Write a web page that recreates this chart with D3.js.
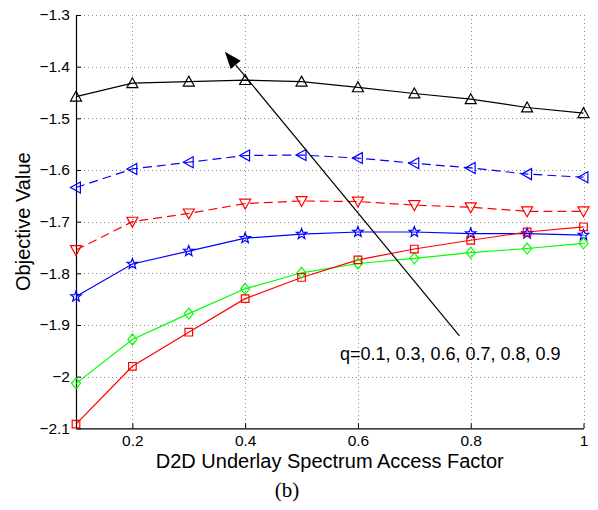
<!DOCTYPE html>
<html>
<head>
<meta charset="utf-8">
<script src="https://cdn.jsdelivr.net/npm/d3@7"></script>
<style>
  html, body { margin: 0; padding: 0; background: #fff; }
  svg { display: block; }
</style>
</head>
<body>
<svg id="chart" width="598" height="510"></svg>
<script>
// ---- data ----
const xValues = [0.1, 0.2, 0.3, 0.4, 0.5, 0.6, 0.7, 0.8, 0.9, 1.0];
const seriesQ01 = [-1.458, -1.432, -1.429, -1.426, -1.429, -1.440, -1.452, -1.463, -1.479, -1.490]; // black up-triangle
const seriesQ03 = [-1.634, -1.598, -1.585, -1.572, -1.571, -1.577, -1.587, -1.596, -1.608, -1.614]; // blue dashed left-triangle
const seriesQ06 = [-1.755, -1.700, -1.684, -1.665, -1.660, -1.661, -1.668, -1.672, -1.680, -1.680]; // red dashed down-triangle
const seriesQ07 = [-1.845, -1.782, -1.757, -1.732, -1.724, -1.720, -1.720, -1.723, -1.723, -1.726]; // blue star
const seriesQ08 = [-2.013, -1.928, -1.878, -1.830, -1.799, -1.781, -1.771, -1.760, -1.752, -1.742]; // green diamond
const seriesQ09 = [-2.092, -1.980, -1.914, -1.849, -1.808, -1.774, -1.753, -1.736, -1.720, -1.710]; // red square
const xTicks = [0.2, 0.4, 0.6, 0.8, 1.0];
const xTickLabels = ["0.2", "0.4", "0.6", "0.8", "1"];
const yTicks = [-2.1, -2.0, -1.9, -1.8, -1.7, -1.6, -1.5, -1.4, -1.3];
const yTickLabels = ["\u22122.1", "\u22122", "\u22121.9", "\u22121.8", "\u22121.7", "\u22121.6", "\u22121.5", "\u22121.4", "\u22121.3"];
const xLabel = "D2D Underlay Spectrum Access Factor";
const yLabel = "Objective Value";
const annotationText = "q=0.1, 0.3, 0.6, 0.7, 0.8, 0.9";
const arrowFrom = [0.780, -1.921];
const arrowTo = [0.364, -1.371];
const annotationAt = [0.568, -1.968];
const captionText = "(b)";

const series = [
  { values: seriesQ01, color: "#000000", dash: null, marker: "up" },
  { values: seriesQ03, color: "#0000ff", dash: "9,5", marker: "left" },
  { values: seriesQ06, color: "#ff0000", dash: "9,5", marker: "down" },
  { values: seriesQ07, color: "#0000ff", dash: null, marker: "star" },
  { values: seriesQ08, color: "#00ff00", dash: null, marker: "diamond" },
  { values: seriesQ09, color: "#ff0000", dash: null, marker: "square" }
];

// ---- layout ----
const svg = d3.select("#chart");
const pLeft = 76, pRight = 583.5, pTop = 15, pBottom = 428.3;
const x = d3.scaleLinear().domain([0.1, 1.0]).range([pLeft, pRight]);
const y = d3.scaleLinear().domain([-2.1, -1.3]).range([pBottom, pTop]);
const font = "Arial, 'Liberation Sans', Helvetica, sans-serif";

svg.append("rect").attr("width", 598).attr("height", 510).attr("fill", "#fff");

// grid
const grid = svg.append("g").attr("stroke", "#8c8c8c").attr("stroke-width", 1)
  .attr("stroke-dasharray", "1,3").attr("shape-rendering", "crispEdges");
grid.selectAll("line.gx").data(xTicks).join("line").attr("class", "gx")
  .attr("x1", d => Math.round(x(d)) + 0.5).attr("x2", d => Math.round(x(d)) + 0.5)
  .attr("y1", pTop).attr("y2", pBottom);
grid.selectAll("line.gy").data(yTicks.filter(d => d > -2.1)).join("line").attr("class", "gy")
  .attr("y1", d => Math.round(y(d)) + 0.5).attr("y2", d => Math.round(y(d)) + 0.5)
  .attr("x1", pLeft).attr("x2", pRight);

// axes (inward ticks, MATLAB style)
const xAxis = d3.axisBottom(x).tickValues(xTicks).tickSizeInner(-5).tickSizeOuter(0)
  .tickPadding(7).tickFormat((d, i) => xTickLabels[i]);
const gx = svg.append("g").attr("transform", `translate(0,${pBottom})`).call(xAxis);
gx.select(".domain").attr("stroke", "#000").attr("stroke-width", 1.2);
gx.selectAll(".tick line").attr("stroke", "#000");
gx.selectAll("text").attr("font-family", font).attr("font-size", 15.5).attr("fill", "#000");

const yAxis = d3.axisLeft(y).tickValues(yTicks).tickSizeInner(-5).tickSizeOuter(0)
  .tickPadding(6).tickFormat((d, i) => yTickLabels[i]);
const gy = svg.append("g").attr("transform", `translate(${pLeft},0)`).call(yAxis);
gy.select(".domain").attr("stroke", "#000").attr("stroke-width", 1.2);
gy.selectAll(".tick line").attr("stroke", "#000");
gy.selectAll("text").attr("font-family", font).attr("font-size", 15.5).attr("fill", "#000");

// lines
const line = d3.line().x((d, i) => x(xValues[i])).y(d => y(d));
series.forEach(s => {
  svg.append("path").datum(s.values)
    .attr("d", line).attr("fill", "none")
    .attr("stroke", s.color).attr("stroke-width", 1.2)
    .attr("stroke-dasharray", s.dash);
});

// markers
function markerPath(type) {
  const r = 5.5;
  switch (type) {
    case "up": return `M0,${-r} L${r},${r * 0.8} L${-r},${r * 0.8} Z`;
    case "down": return `M0,${r} L${r},${-r * 0.8} L${-r},${-r * 0.8} Z`;
    case "left": return `M${-r},0 L${r * 0.8},${-r} L${r * 0.8},${r} Z`;
    case "diamond": return `M0,${-5.5} L4.5,0 L0,5.5 L-4.5,0 Z`;
    case "square": return `M-3.8,-3.8 H3.8 V3.8 H-3.8 Z`;
    case "star": {
      const pts = [];
      for (let k = 0; k < 10; k++) {
        const rr = k % 2 === 0 ? 5.5 : 2.3;
        const a = -Math.PI / 2 + k * Math.PI / 5;
        pts.push([rr * Math.cos(a), rr * Math.sin(a)]);
      }
      return "M" + pts.map(p => p.join(",")).join("L") + "Z";
    }
  }
}
series.forEach(s => {
  svg.append("g").selectAll("path").data(s.values).join("path")
    .attr("d", markerPath(s.marker))
    .attr("transform", (d, i) => `translate(${x(xValues[i])},${y(d)})`)
    .attr("fill", "none").attr("stroke", s.color).attr("stroke-width", 1.2);
});

// arrow annotation
const ax1 = x(arrowFrom[0]), ay1 = y(arrowFrom[1]);
const ax2 = x(arrowTo[0]), ay2 = y(arrowTo[1]);
const ang = Math.atan2(ay2 - ay1, ax2 - ax1);
const headLen = 17, headHalf = 6.5;
const bx = ax2 - headLen * Math.cos(ang), by = ay2 - headLen * Math.sin(ang);
svg.append("line").attr("x1", ax1).attr("y1", ay1).attr("x2", bx).attr("y2", by)
  .attr("stroke", "#000").attr("stroke-width", 1.2);
svg.append("path")
  .attr("d", `M${ax2},${ay2} L${bx + headHalf * Math.sin(ang)},${by - headHalf * Math.cos(ang)} L${bx - headHalf * Math.sin(ang)},${by + headHalf * Math.cos(ang)} Z`)
  .attr("fill", "#000");

svg.append("text").attr("x", x(annotationAt[0])).attr("y", y(annotationAt[1]))
  .attr("font-family", font).attr("font-size", 18).attr("fill", "#000")
  .text(annotationText);

// axis labels
svg.append("text").attr("x", (pLeft + pRight) / 2).attr("y", 468)
  .attr("text-anchor", "middle").attr("font-family", font).attr("font-size", 20)
  .attr("fill", "#000").text(xLabel);
svg.append("text").attr("transform", `translate(30,${(pTop + pBottom) / 2}) rotate(-90)`)
  .attr("text-anchor", "middle").attr("font-family", font).attr("font-size", 20)
  .attr("fill", "#000").text(yLabel);

// caption
svg.append("text").attr("x", 287).attr("y", 497)
  .attr("text-anchor", "middle").attr("font-family", "'Liberation Serif', 'Times New Roman', serif")
  .attr("font-size", 21).attr("fill", "#000").text(captionText);
</script>
</body>
</html>
